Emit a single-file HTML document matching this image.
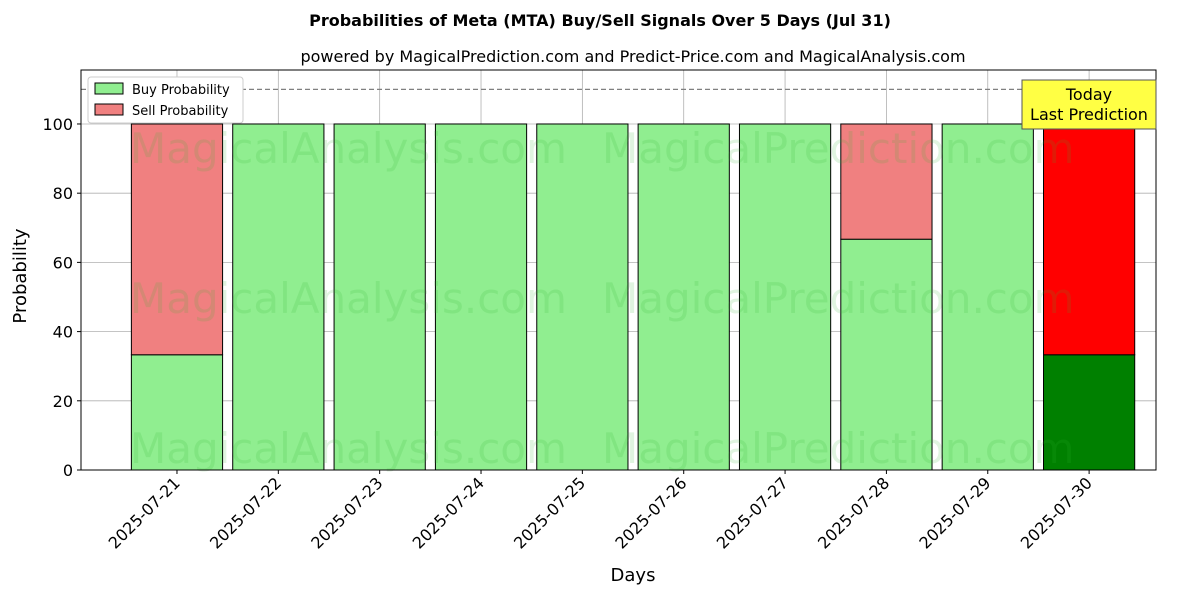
<!DOCTYPE html>
<html><head><meta charset="utf-8"><style>
body{margin:0;background:#fff;font-family:"DejaVu Sans","Liberation Sans",sans-serif;}
svg text{font-family:"DejaVu Sans","Liberation Sans",sans-serif;}
</style></head><body>
<svg id="chart" width="1200" height="600" viewBox="0 0 1200 600">
<rect width="1200" height="600" fill="#fff"/>
<text x="600" y="26" text-anchor="middle" font-size="16" font-weight="bold">Probabilities of Meta (MTA) Buy/Sell Signals Over 5 Days (Jul 31)</text>
<text x="633" y="62" text-anchor="middle" font-size="16">powered by MagicalPrediction.com and Predict-Price.com and MagicalAnalysis.com</text>
<g id="grid"></g>
<g id="bars"></g>
<g id="wm" font-size="42" fill="rgba(50,180,50,0.15)">
<text x="130" y="163">MagicalAnalysis.com</text>
<text x="602" y="163">MagicalPrediction.com</text>
<text x="130" y="313">MagicalAnalysis.com</text>
<text x="602" y="313">MagicalPrediction.com</text>
<text x="130" y="463">MagicalAnalysis.com</text>
<text x="602" y="463">MagicalPrediction.com</text>
</g>
<line id="refline" x1="81" x2="1156" stroke="#808080" stroke-width="1.3" stroke-dasharray="5,3"/>
<rect x="81" y="70" width="1075" height="400" fill="none" stroke="#000" stroke-width="1"/>
<g id="axes"></g>
<text x="20" y="270" transform="rotate(-90 26 270)" text-anchor="middle" font-size="18">Probability</text>
<text x="633" y="581" text-anchor="middle" font-size="18">Days</text>
<g>
<rect x="88" y="77" width="155" height="46" fill="#fff" stroke="#ccc" rx="3"/>
<rect x="95" y="83" width="28" height="11" fill="#90ee90" stroke="#000"/>
<text x="132" y="94" font-size="13">Buy Probability</text>
<rect x="95" y="104" width="28" height="11" fill="#f08080" stroke="#000"/>
<text x="132" y="115" font-size="13">Sell Probability</text>
</g>
<g>
<rect x="1022" y="80" width="134" height="49" fill="#ffff44" stroke="#555" stroke-width="1"/>
<text x="1089" y="100" text-anchor="middle" font-size="16">Today</text>
<text x="1089" y="120" text-anchor="middle" font-size="16">Last Prediction</text>
</g>
</svg>
<script>
const categories=["2025-07-21","2025-07-22","2025-07-23","2025-07-24","2025-07-25","2025-07-26","2025-07-27","2025-07-28","2025-07-29","2025-07-30"];
const buyValues=[33.3,100,100,100,100,100,100,66.7,100,33.3];
const sellValues=[66.7,0,0,0,0,0,0,33.3,0,66.7];
const yTicks=[0,20,40,60,80,100];
const refValue=110;
const NS="http://www.w3.org/2000/svg";
const X0=81,X1=1156,Y0=470,Y1=70,xmin=-0.947,xmax=9.66,ymin=0,ymax=115.6;
const xs=i=>X0+(i-xmin)/(xmax-xmin)*(X1-X0);
const ys=v=>Y0-(v-ymin)/(ymax-ymin)*(Y0-Y1);
const bw=(xs(0.9)-xs(0));
function mk(tag,a,parent){const e=document.createElementNS(NS,tag);for(const k in a)e.setAttribute(k,a[k]);parent.appendChild(e);return e;}
const grid=document.getElementById('grid'),bars=document.getElementById('bars'),axes=document.getElementById('axes');
yTicks.forEach(t=>{
 const g=mk('line',{x1:X0,x2:X1,y1:ys(t),y2:ys(t),stroke:'#b0b0b0','stroke-width':0.8},grid);
 
 
 const tk=mk('line',{x1:X0-4,x2:X0,y1:ys(t),y2:ys(t),stroke:'#000'},axes);
 
 
 const tx=mk('text',{x:X0-8,y:ys(t)+6,'text-anchor':'end','font-size':16},axes);
 tx.textContent=t;
 
 
});
categories.forEach((c,i)=>{
 const cx=xs(i);
 const g=mk('line',{x1:cx,x2:cx,y1:Y1,y2:Y0,stroke:'#b0b0b0','stroke-width':0.8},grid);
 
 
 const last=i===categories.length-1;
 const b=mk('rect',{x:cx-bw/2,y:ys(buyValues[i]),width:bw,height:ys(0)-ys(buyValues[i]),fill:last?'#008000':'#90ee90',stroke:'#000','stroke-width':1},bars);
 
 
 if(sellValues[i]>0){
  const s=mk('rect',{x:cx-bw/2,y:ys(buyValues[i]+sellValues[i]),width:bw,height:ys(buyValues[i])-ys(buyValues[i]+sellValues[i]),fill:last?'#ff0000':'#f08080',stroke:'#000','stroke-width':1},bars);
  
  
 }
 const tk=mk('line',{x1:cx,x2:cx,y1:Y0,y2:Y0+4,stroke:'#000'},axes);
 
 
 const tx=mk('text',{x:cx+4,y:Y0+14,'text-anchor':'end','font-size':16,transform:`rotate(-45 ${cx+4} ${Y0+14})`},axes);
 tx.textContent=c;
 
 
});
const rl=document.getElementById('refline');rl.setAttribute('y1',ys(refValue));rl.setAttribute('y2',ys(refValue));
</script>
</body></html>
